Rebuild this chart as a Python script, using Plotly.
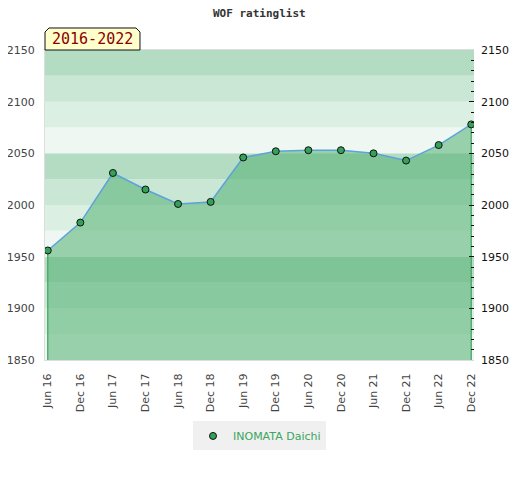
import plotly.graph_objects as go

periods = ["Jun 16", "Dec 16", "Jun 17", "Dec 17", "Jun 18", "Dec 18", "Jun 19",
           "Dec 19", "Jun 20", "Dec 20", "Jun 21", "Dec 21", "Jun 22", "Dec 22"]
ratings = [1956, 1983, 2031, 2015, 2001, 2003, 2046, 2052, 2053, 2053, 2050, 2043, 2058, 2078]
player = "INOMATA Daichi"
y_ticks = [1850, 1900, 1950, 2000, 2050, 2100, 2150]
band_edges = list(range(1850, 2151, 25))
band_colors = ["#eef7f1", "#dcefe3", "#cae6d5", "#b3dcc2"]

fig = go.Figure()

# background bands
for i in range(len(band_edges) - 1):
    fig.add_shape(type="rect", xref="paper", yref="y", x0=0, x1=1,
                  y0=band_edges[i], y1=band_edges[i + 1],
                  fillcolor=band_colors[i % 4], line_width=0, layer="below")

n = len(periods)
fig.add_trace(go.Scatter(
    x=periods, y=ratings, mode="lines", fill="tozeroy",
    fillcolor="rgba(82,175,113,0.54)",
    line=dict(color="#5ba3d9", width=1.5), showlegend=False, hoverinfo="skip"))

# vertical edges of the filled area
for idx in (0, n - 1):
    fig.add_trace(go.Scatter(
        x=[periods[idx], periods[idx]], y=[y_ticks[0], ratings[idx]], mode="lines",
        line=dict(color="#3aa55d", width=1.2), showlegend=False, hoverinfo="skip"))

fig.add_trace(go.Scatter(
    x=periods, y=ratings, mode="markers", name=player,
    marker=dict(color="#34a058", size=7, line=dict(color="#111", width=1))))

# right-side axis ghost trace for ticks
fig.add_trace(go.Scatter(x=[periods[0]], y=[ratings[0]], yaxis="y2",
                         mode="markers", marker=dict(opacity=0), showlegend=False,
                         hoverinfo="skip"))

fig.update_layout(
    width=504, height=464,
    margin=dict(l=37, r=38, t=42, b=112, autoexpand=False),
    paper_bgcolor="white", plot_bgcolor="white",
    xaxis=dict(type="category", range=[-0.085, n - 1 + 0.085], tickangle=-90,
               showgrid=False, zeroline=False, showline=True, linecolor="#dddddd",
               tickfont=dict(family="DejaVu Sans", size=11, color="#444"),
               ticks="outside", ticklen=8, tickcolor="rgba(0,0,0,0)",
               mirror=True, automargin=False),
    yaxis=dict(range=[1850, 2150], tickvals=y_ticks, showgrid=False, zeroline=False,
               showline=True, linecolor="#dddddd", automargin=False,
               tickfont=dict(family="DejaVu Sans", size=11, color="#444"),
               ticks="outside", ticklen=7, tickcolor="rgba(0,0,0,0)"),
    yaxis2=dict(range=[1850, 2150], tickvals=y_ticks, overlaying="y", side="right",
                showgrid=False, zeroline=False, ticks="inside", ticklen=5,
                tickcolor="#111", tickwidth=1, automargin=False, ticklabelstandoff=6,
                minor=dict(dtick=10, ticks="inside", ticklen=3, tickcolor="#111"),
                tickfont=dict(family="DejaVu Sans", size=11, color="#111")),
    legend=dict(orientation="h", x=0.5, xanchor="center", y=-0.245, yanchor="middle",
                bgcolor="#f0f0f0", font=dict(family="DejaVu Sans", size=11, color="#3aa55d"),
                itemwidth=30, tracegroupgap=0),
)

fig.add_annotation(xref="paper", yref="paper", x=0.5, y=(360 - 14) / 310.0,
                   text="<b>WOF ratinglist</b>", showarrow=False,
                   xanchor="center", yanchor="middle",
                   font=dict(family="DejaVu Sans Mono", size=11, color="#333"))

# tag box with clipped top corners
fig.add_shape(type="path", xref="paper", yref="paper",
              path="M 0,1 L 0,1.058 L 0.0093,1.071 L 0.2121,1.071 L 0.2214,1.058 L 0.2214,1 Z",
              fillcolor="#ffffcc", line=dict(color="#111", width=1))
fig.add_annotation(xref="paper", yref="paper", x=0.1107, y=1.0355, text="2016-2022",
                   showarrow=False, xanchor="center", yanchor="middle",
                   font=dict(family="DejaVu Sans Mono", size=15, color="#8b0000"))

fig.write_html("out.html")
